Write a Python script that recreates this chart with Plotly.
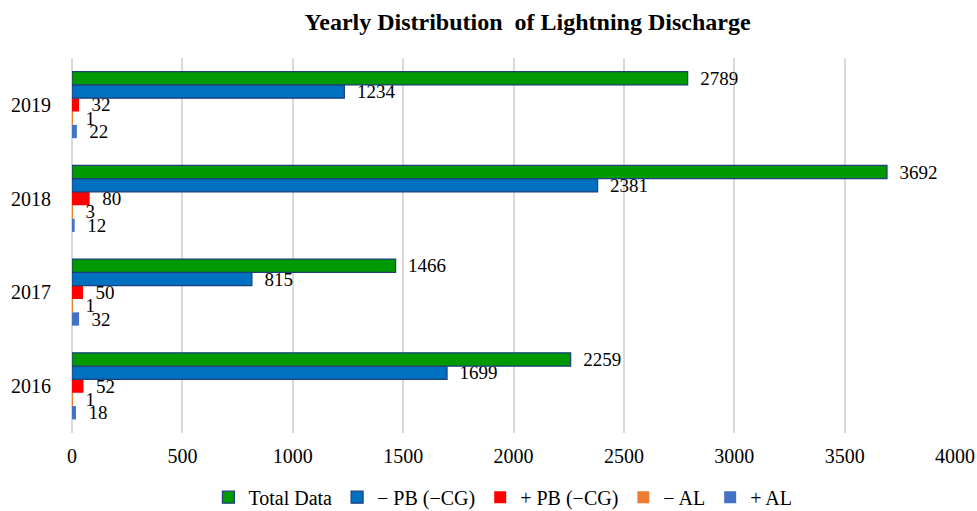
import plotly.graph_objects as go

years = ["2016", "2017", "2018", "2019"]
total_data = [2259, 1466, 3692, 2789]
minus_pb = [1699, 815, 2381, 1234]
plus_pb = [52, 50, 80, 32]
minus_al = [1, 1, 3, 1]
plus_al = [18, 32, 12, 22]

series_names = ["Total Data", "\u2212 PB (\u2212CG)", "+ PB (\u2212CG)", "\u2212 AL", "+ AL"]
series_values = [total_data, minus_pb, plus_pb, minus_al, plus_al]
colors = ["#009900", "#0070C0", "#FF0000", "#ED7D31", "#4472C4"]
outlines = ["#1F3F7A", "#1F3F7A", "#FF0000", "#ED7D31", "#4472C4"]
outline_w = [1.2, 1.2, 0, 0, 0]

font_family = "Liberation Serif, Times New Roman, serif"

fig = go.Figure()
# add in reverse so Total Data ends up on top of each group
for name, vals, c, oc, ow in reversed(list(zip(series_names, series_values, colors, outlines, outline_w))):
    fig.add_trace(go.Bar(
        y=years, x=vals, name=name, orientation="h",
        marker=dict(color=c, line=dict(color=oc, width=ow)),
        texttemplate="  %{x}", textposition="outside",
        constraintext="none",
        textfont=dict(family=font_family, size=19, color="#000000"),
        cliponaxis=False, hoverinfo="skip",
    ))

fig.update_layout(
    width=977, height=511,
    paper_bgcolor="white", plot_bgcolor="white",
    barmode="group", bargap=0.29, bargroupgap=0,
    title=dict(text="<b>Yearly Distribution  of Lightning Discharge</b>",
               x=0.54, xanchor="center", y=0.957, yanchor="middle",
               font=dict(family=font_family, size=24, color="#000000")),
    margin=dict(l=72, r=22, t=58, b=78),
    font=dict(family=font_family, size=20, color="#000000"),
    xaxis=dict(range=[0, 4000], dtick=500, showgrid=True, gridcolor="#D9D9D9", gridwidth=2,
               zeroline=True, zerolinecolor="#D9D9D9", zerolinewidth=2,
               showline=False, ticks="", tickfont=dict(size=20), automargin=False,
               ticklabelstandoff=9),
    yaxis=dict(showgrid=False, showline=False, ticks="", tickfont=dict(size=20),
               ticklabelstandoff=20, automargin=False),
    legend=dict(orientation="h", x=0.488, xanchor="center", yref="container", y=0.027,
                yanchor="middle", traceorder="reversed", font=dict(size=20), itemwidth=30),
)

fig.write_html(
    "out.html",
    config={"displayModeBar": False},
    post_script="document.body.style.margin='0';document.body.style.overflow='hidden';",
)
